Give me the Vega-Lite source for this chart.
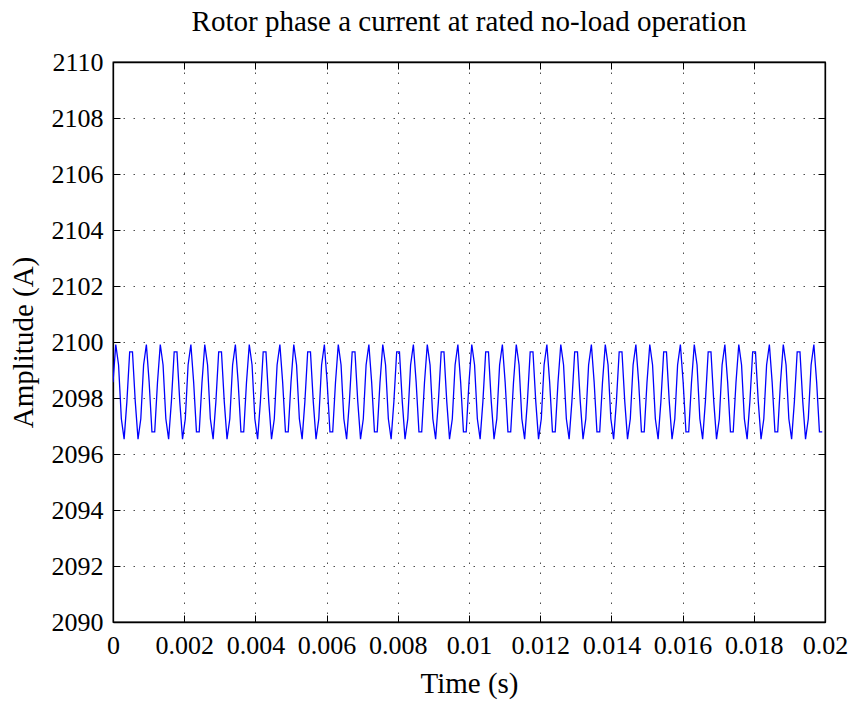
{
"$schema": "https://vega.github.io/schema/vega-lite/v6.json",
"width": 712, "height": 560,
"autosize": {"type": "none"},
"padding": {"left": 113, "top": 62, "right": 27, "bottom": 80},
"background": "white",
"title": {"text": "Rotor phase a current at rated no-load operation", "font": "Liberation Serif", "fontSize": 29, "fontWeight": "normal", "color": "black", "offset": 12, "anchor": "middle"},
"config": {
 "view": {"stroke": "black", "strokeWidth": 1.3},
 "axis": {"domainColor": "black", "domainWidth": 1.3, "tickColor": "black", "tickWidth": 1, "tickSize": -7, "labelColor": "black", "labelFont": "Liberation Serif", "labelFontSize": 26, "titleFont": "Liberation Serif", "titleFontSize": 29, "titleFontWeight": "normal", "titleColor": "black", "gridColor": "#222", "gridDash": [1.5, 8.5], "gridWidth": 1, "gridOpacity": 0.8, "labelFlush": false, "labelOverlap": false}
},
"data": {"values": [
{"t":0,"a":2098.56},{"t":0.000078125,"a":2099.91},{"t":0.00015625,"a":2099.18},{"t":0.000234375,"a":2097.26},{"t":0.0003125,"a":2096.53},{"t":0.000390625,"a":2097.88},{"t":0.00046875,"a":2099.65},{"t":0.000546875,"a":2099.65},{"t":0.000625,"a":2097.88},{"t":0.000703125,"a":2096.53},{"t":0.00078125,"a":2097.26},{"t":0.000859375,"a":2099.18},{"t":0.0009375,"a":2099.91},{"t":0.001015625,"a":2098.56},{"t":0.00109375,"a":2096.79},{"t":0.001171875,"a":2096.79},
{"t":0.00125,"a":2098.56},{"t":0.001328125,"a":2099.91},{"t":0.00140625,"a":2099.18},{"t":0.001484375,"a":2097.26},{"t":0.0015625,"a":2096.53},{"t":0.001640625,"a":2097.88},{"t":0.00171875,"a":2099.65},{"t":0.001796875,"a":2099.65},{"t":0.001875,"a":2097.88},{"t":0.001953125,"a":2096.53},{"t":0.00203125,"a":2097.26},{"t":0.002109375,"a":2099.18},{"t":0.0021875,"a":2099.91},{"t":0.002265625,"a":2098.56},{"t":0.00234375,"a":2096.79},{"t":0.002421875,"a":2096.79},
{"t":0.0025,"a":2098.56},{"t":0.002578125,"a":2099.91},{"t":0.00265625,"a":2099.18},{"t":0.002734375,"a":2097.26},{"t":0.0028125,"a":2096.53},{"t":0.002890625,"a":2097.88},{"t":0.00296875,"a":2099.65},{"t":0.003046875,"a":2099.65},{"t":0.003125,"a":2097.88},{"t":0.003203125,"a":2096.53},{"t":0.00328125,"a":2097.26},{"t":0.003359375,"a":2099.18},{"t":0.0034375,"a":2099.91},{"t":0.003515625,"a":2098.56},{"t":0.00359375,"a":2096.79},{"t":0.003671875,"a":2096.79},
{"t":0.00375,"a":2098.56},{"t":0.003828125,"a":2099.91},{"t":0.00390625,"a":2099.18},{"t":0.003984375,"a":2097.26},{"t":0.0040625,"a":2096.53},{"t":0.004140625,"a":2097.88},{"t":0.00421875,"a":2099.65},{"t":0.004296875,"a":2099.65},{"t":0.004375,"a":2097.88},{"t":0.004453125,"a":2096.53},{"t":0.00453125,"a":2097.26},{"t":0.004609375,"a":2099.18},{"t":0.0046875,"a":2099.91},{"t":0.004765625,"a":2098.56},{"t":0.00484375,"a":2096.79},{"t":0.004921875,"a":2096.79},
{"t":0.005,"a":2098.56},{"t":0.005078125,"a":2099.91},{"t":0.00515625,"a":2099.18},{"t":0.005234375,"a":2097.26},{"t":0.0053125,"a":2096.53},{"t":0.005390625,"a":2097.88},{"t":0.00546875,"a":2099.65},{"t":0.005546875,"a":2099.65},{"t":0.005625,"a":2097.88},{"t":0.005703125,"a":2096.53},{"t":0.00578125,"a":2097.26},{"t":0.005859375,"a":2099.18},{"t":0.0059375,"a":2099.91},{"t":0.006015625,"a":2098.56},{"t":0.00609375,"a":2096.79},{"t":0.006171875,"a":2096.79},
{"t":0.00625,"a":2098.56},{"t":0.006328125,"a":2099.91},{"t":0.00640625,"a":2099.18},{"t":0.006484375,"a":2097.26},{"t":0.0065625,"a":2096.53},{"t":0.006640625,"a":2097.88},{"t":0.00671875,"a":2099.65},{"t":0.006796875,"a":2099.65},{"t":0.006875,"a":2097.88},{"t":0.006953125,"a":2096.53},{"t":0.00703125,"a":2097.26},{"t":0.007109375,"a":2099.18},{"t":0.0071875,"a":2099.91},{"t":0.007265625,"a":2098.56},{"t":0.00734375,"a":2096.79},{"t":0.007421875,"a":2096.79},
{"t":0.0075,"a":2098.56},{"t":0.007578125,"a":2099.91},{"t":0.00765625,"a":2099.18},{"t":0.007734375,"a":2097.26},{"t":0.0078125,"a":2096.53},{"t":0.007890625,"a":2097.88},{"t":0.00796875,"a":2099.65},{"t":0.008046875,"a":2099.65},{"t":0.008125,"a":2097.88},{"t":0.008203125,"a":2096.53},{"t":0.00828125,"a":2097.26},{"t":0.008359375,"a":2099.18},{"t":0.0084375,"a":2099.91},{"t":0.008515625,"a":2098.56},{"t":0.00859375,"a":2096.79},{"t":0.008671875,"a":2096.79},
{"t":0.00875,"a":2098.56},{"t":0.008828125,"a":2099.91},{"t":0.00890625,"a":2099.18},{"t":0.008984375,"a":2097.26},{"t":0.0090625,"a":2096.53},{"t":0.009140625,"a":2097.88},{"t":0.00921875,"a":2099.65},{"t":0.009296875,"a":2099.65},{"t":0.009375,"a":2097.88},{"t":0.009453125,"a":2096.53},{"t":0.00953125,"a":2097.26},{"t":0.009609375,"a":2099.18},{"t":0.0096875,"a":2099.91},{"t":0.009765625,"a":2098.56},{"t":0.00984375,"a":2096.79},{"t":0.009921875,"a":2096.79},
{"t":0.01,"a":2098.56},{"t":0.010078125,"a":2099.91},{"t":0.01015625,"a":2099.18},{"t":0.010234375,"a":2097.26},{"t":0.0103125,"a":2096.53},{"t":0.010390625,"a":2097.88},{"t":0.01046875,"a":2099.65},{"t":0.010546875,"a":2099.65},{"t":0.010625,"a":2097.88},{"t":0.010703125,"a":2096.53},{"t":0.01078125,"a":2097.26},{"t":0.010859375,"a":2099.18},{"t":0.0109375,"a":2099.91},{"t":0.011015625,"a":2098.56},{"t":0.01109375,"a":2096.79},{"t":0.011171875,"a":2096.79},
{"t":0.01125,"a":2098.56},{"t":0.011328125,"a":2099.91},{"t":0.01140625,"a":2099.18},{"t":0.011484375,"a":2097.26},{"t":0.0115625,"a":2096.53},{"t":0.011640625,"a":2097.88},{"t":0.01171875,"a":2099.65},{"t":0.011796875,"a":2099.65},{"t":0.011875,"a":2097.88},{"t":0.011953125,"a":2096.53},{"t":0.01203125,"a":2097.26},{"t":0.012109375,"a":2099.18},{"t":0.0121875,"a":2099.91},{"t":0.012265625,"a":2098.56},{"t":0.01234375,"a":2096.79},{"t":0.012421875,"a":2096.79},
{"t":0.0125,"a":2098.56},{"t":0.012578125,"a":2099.91},{"t":0.01265625,"a":2099.18},{"t":0.012734375,"a":2097.26},{"t":0.0128125,"a":2096.53},{"t":0.012890625,"a":2097.88},{"t":0.01296875,"a":2099.65},{"t":0.013046875,"a":2099.65},{"t":0.013125,"a":2097.88},{"t":0.013203125,"a":2096.53},{"t":0.01328125,"a":2097.26},{"t":0.013359375,"a":2099.18},{"t":0.0134375,"a":2099.91},{"t":0.013515625,"a":2098.56},{"t":0.01359375,"a":2096.79},{"t":0.013671875,"a":2096.79},
{"t":0.01375,"a":2098.56},{"t":0.013828125,"a":2099.91},{"t":0.01390625,"a":2099.18},{"t":0.013984375,"a":2097.26},{"t":0.0140625,"a":2096.53},{"t":0.014140625,"a":2097.88},{"t":0.01421875,"a":2099.65},{"t":0.014296875,"a":2099.65},{"t":0.014375,"a":2097.88},{"t":0.014453125,"a":2096.53},{"t":0.01453125,"a":2097.26},{"t":0.014609375,"a":2099.18},{"t":0.0146875,"a":2099.91},{"t":0.014765625,"a":2098.56},{"t":0.01484375,"a":2096.79},{"t":0.014921875,"a":2096.79},
{"t":0.015,"a":2098.56},{"t":0.015078125,"a":2099.91},{"t":0.01515625,"a":2099.18},{"t":0.015234375,"a":2097.26},{"t":0.0153125,"a":2096.53},{"t":0.015390625,"a":2097.88},{"t":0.01546875,"a":2099.65},{"t":0.015546875,"a":2099.65},{"t":0.015625,"a":2097.88},{"t":0.015703125,"a":2096.53},{"t":0.01578125,"a":2097.26},{"t":0.015859375,"a":2099.18},{"t":0.0159375,"a":2099.91},{"t":0.016015625,"a":2098.56},{"t":0.01609375,"a":2096.79},{"t":0.016171875,"a":2096.79},
{"t":0.01625,"a":2098.56},{"t":0.016328125,"a":2099.91},{"t":0.01640625,"a":2099.18},{"t":0.016484375,"a":2097.26},{"t":0.0165625,"a":2096.53},{"t":0.016640625,"a":2097.88},{"t":0.01671875,"a":2099.65},{"t":0.016796875,"a":2099.65},{"t":0.016875,"a":2097.88},{"t":0.016953125,"a":2096.53},{"t":0.01703125,"a":2097.26},{"t":0.017109375,"a":2099.18},{"t":0.0171875,"a":2099.91},{"t":0.017265625,"a":2098.56},{"t":0.01734375,"a":2096.79},{"t":0.017421875,"a":2096.79},
{"t":0.0175,"a":2098.56},{"t":0.017578125,"a":2099.91},{"t":0.01765625,"a":2099.18},{"t":0.017734375,"a":2097.26},{"t":0.0178125,"a":2096.53},{"t":0.017890625,"a":2097.88},{"t":0.01796875,"a":2099.65},{"t":0.018046875,"a":2099.65},{"t":0.018125,"a":2097.88},{"t":0.018203125,"a":2096.53},{"t":0.01828125,"a":2097.26},{"t":0.018359375,"a":2099.18},{"t":0.0184375,"a":2099.91},{"t":0.018515625,"a":2098.56},{"t":0.01859375,"a":2096.79},{"t":0.018671875,"a":2096.79},
{"t":0.01875,"a":2098.56},{"t":0.018828125,"a":2099.91},{"t":0.01890625,"a":2099.18},{"t":0.018984375,"a":2097.26},{"t":0.0190625,"a":2096.53},{"t":0.019140625,"a":2097.88},{"t":0.01921875,"a":2099.65},{"t":0.019296875,"a":2099.65},{"t":0.019375,"a":2097.88},{"t":0.019453125,"a":2096.53},{"t":0.01953125,"a":2097.26},{"t":0.019609375,"a":2099.18},{"t":0.0196875,"a":2099.91},{"t":0.019765625,"a":2098.56},{"t":0.01984375,"a":2096.79},{"t":0.019921875,"a":2096.79}
]},
"layer": [
 {"mark": {"type": "line", "color": "#0000ff", "strokeWidth": 1.3, "clip": true},
  "encoding": {
   "x": {"field": "t", "type": "quantitative", "scale": {"domain": [0, 0.02], "nice": false, "zero": false},
         "axis": {"orient": "bottom", "title": "Time (s)", "values": [0,0.002,0.004,0.006,0.008,0.01,0.012,0.014,0.016,0.018,0.02], "format": "~g", "grid": true, "labelPadding": 17, "titlePadding": 11}},
   "y": {"field": "a", "type": "quantitative", "scale": {"domain": [2090, 2110], "nice": false, "zero": false},
         "axis": {"orient": "left", "title": "Amplitude (A)", "values": [2090,2092,2094,2096,2098,2100,2102,2104,2106,2108,2110], "format": "d", "grid": true, "labelPadding": 17, "titlePadding": 13}}
  }},
 {"mark": {"type": "point", "opacity": 0},
  "encoding": {
   "x": {"field": "t", "type": "quantitative", "scale": {"domain": [0, 0.02], "nice": false, "zero": false},
         "axis": {"orient": "top", "title": null, "labels": false, "grid": false, "values": [0,0.002,0.004,0.006,0.008,0.01,0.012,0.014,0.016,0.018,0.02]}},
   "y": {"field": "a", "type": "quantitative", "scale": {"domain": [2090, 2110], "nice": false, "zero": false},
         "axis": {"orient": "right", "title": null, "labels": false, "grid": false, "values": [2090,2092,2094,2096,2098,2100,2102,2104,2106,2108,2110]}}
  }}
],
"resolve": {"axis": {"x": "independent", "y": "independent"}}
}
